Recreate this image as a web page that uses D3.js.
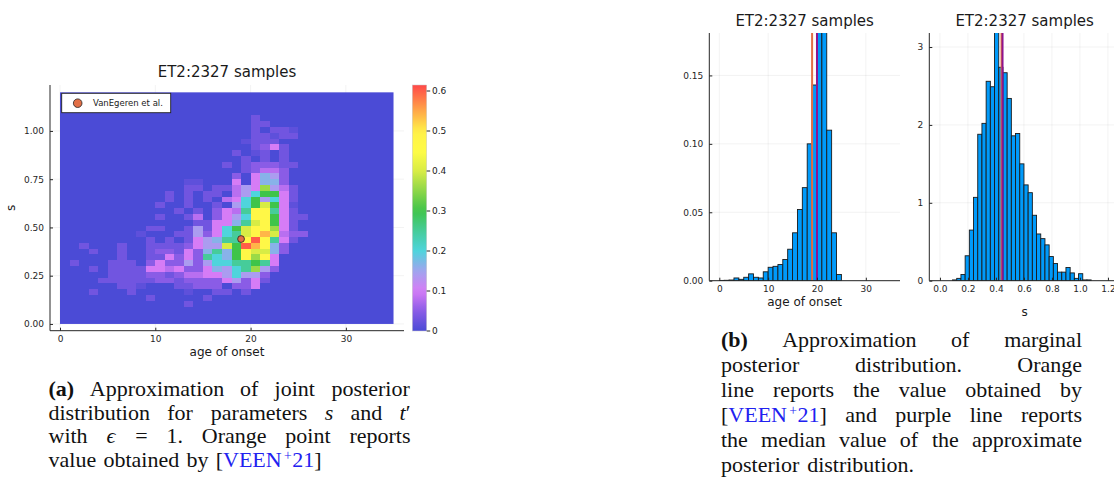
<!DOCTYPE html>
<html><head><meta charset="utf-8">
<script src="https://cdn.jsdelivr.net/npm/d3@7"></script>
<style>body{margin:0;background:#fff}svg{display:block}</style>
</head><body>
<svg id="c" width="1114" height="479"></svg>
<script>
// ---------------- DATA ----------------
const titleText = "ET2:2327 samples";
const legendLabel = "VanEgeren et al.";
const refPoint = {age: 19, s: 0.44};      // VanEgeren et al.
const medianAge = 20.0, medianS = 0.447;   // purple lines

// joint posterior heatmap: bins of 1 year (age) x 0.03 (s)
const ageBinWidth = 1, sBinWidth = 0.03, ageMax = 35, sMax = 1.2;
const heatLevels = {".":0,"1":0.015,"2":0.03,"3":0.05,"4":0.08,"5":0.10,"6":0.14,"7":0.165,
  "8":0.20,"9":0.25,"a":0.30,"b":0.36,"c":0.40,"d":0.47,"e":0.54,"f":0.60};
// [row index (s bin), first age column, level codes]
const heatRuns = [
  [35,20,"2"],[34,20,"22"],[33,20,"2.221"],[32,20,"22122"],[31,19,"1222"],[30,20,"2352"],
  [29,18,"2.12.2"],[28,19,"2.2.2"],[27,17,"2.233322"],[26,19,"23443"],[25,18,"3.5763"],
  [24,13,"11...5.5773"],[23,13,"22.22465b642"],[22,11,"2.2.22.468aa52"],[21,11,"2.2.2.458a6852"],
  [20,10,"2..2..2.68aca51"],[19,12,"2.2.3549dd952"],[18,10,"2..24.3568dda522"],[17,14,"225579cda52"],
  [16,9,"22..26258acddb52"],[15,8,"1...2263589cdec433"],[14,9,"2.2.256799dfd952"],
  [13,2,"2"],[13,6,"2"],[13,9,"22223566cafed73"],
  [12,3,"2"],[12,6,"2"],[12,9,"233253797adcc73"],
  [11,6,"2"],[11,9,"225353987adbd5"],
  [10,1,"2"],[10,5,"222.35336368899a95"],
  [9,3,"2.222255453357689b63"],[8,5,"22223323445568663"],[7,4,"222222332333356352"],
  [6,6,"221...22333.335"],[5,3,"2"],[5,7,"2"],[5,13,"1..22.2"],[4,9,"2"],[4,15,"2"],[3,13,"2"]
];
const cmapStops  = [0, 0.05, 0.10, 0.15, 0.20, 0.25, 0.30, 0.35, 0.40, 0.45, 0.50, 0.55, 0.615];
const cmapColors = ["#4b4bd6","#8a5ce6","#d67cf6","#a0a4ee","#4fd4dc","#46cc9a","#3fc44a",
                    "#8cd648","#d8ec45","#fffc46","#fff048","#ffa848","#ff4848"];
const cbTicks = [0, 0.1, 0.2, 0.3, 0.4, 0.5, 0.6];

// marginal histogram of age of onset (bins of 1 starting at 0), density
const ageHistStart = 0, ageHistWidth = 1;
const ageHistValues = [0.0002,0.0003,0.0005,0.002,0.001,0.0025,0.005,0.0025,0.002,0.0065,
  0.0098,0.0105,0.0118,0.0155,0.023,0.035,0.052,0.068,0.100,0.143,0.19,0.185,0.110,0.035,0.0045];
// marginal histogram of s (bins of 0.03 starting at 0.09), density
const sHistStart = 0.09, sHistWidth = 0.03;
const sHistValues = [0.01,0.03,0.08,0.32,0.65,1.07,1.88,2.02,2.56,2.49,3.3,2.74,2.67,2.34,1.86,
  1.89,1.50,1.23,1.13,0.84,0.60,0.54,0.46,0.31,0.22,0.11,0.11,0.17,0.10,0.03,0.09,0.01,0.01];

const aXTicks = [0,10,20,30], aYTicks = [0,0.25,0.5,0.75,1.0];
const b1XTicks = [0,10,20,30], b1YTicks = [0,0.05,0.10,0.15];
const b2XTicks = [0,0.2,0.4,0.6,0.8,1.0,1.2], b2YTicks = [0,1,2,3];

// ---------------- DRAW ----------------
const svg = d3.select("#c");
const SANS = "DejaVu Sans, sans-serif";
const SERIF = "Liberation Serif, DejaVu Serif, serif";
const ORANGE = "#e26f46", PURPLE = "#8e1490", BARBLUE = "#009afa";
const cmap = d3.scaleLinear().domain(cmapStops).range(cmapColors).interpolate(d3.interpolateRgb).clamp(true);

function grid(g, xs, ys, box, xt, yt) {
  g.selectAll(null).data(xt).join("line").attr("x1",d=>xs(d)).attr("x2",d=>xs(d))
    .attr("y1",box.top).attr("y2",box.bottom).attr("stroke","#000").attr("stroke-opacity",0.09).attr("stroke-width",0.6);
  g.selectAll(null).data(yt).join("line").attr("y1",d=>ys(d)).attr("y2",d=>ys(d))
    .attr("x1",box.left).attr("x2",box.right).attr("stroke","#000").attr("stroke-opacity",0.09).attr("stroke-width",0.6);
}
function axes(g, xs, ys, box, xt, yt, xf, yf) {
  const xa = d3.axisBottom(xs).tickValues(xt).tickFormat(xf).tickSizeInner(-3).tickSizeOuter(0).tickPadding(4.6);
  const ya = d3.axisLeft(ys).tickValues(yt).tickFormat(yf).tickSizeInner(-3).tickSizeOuter(0).tickPadding(6);
  const gx = g.append("g").attr("transform",`translate(0,${box.bottom})`).call(xa);
  const gy = g.append("g").attr("transform",`translate(${box.left},0)`).call(ya);
  [gx,gy].forEach(a=>{
    a.select(".domain").remove();
    a.selectAll("text").attr("font-family",SANS).attr("font-size",9).attr("fill","#262626");
    a.selectAll("line").attr("stroke","#262626");
  });
  g.append("line").attr("x1",box.left).attr("x2",box.right).attr("y1",box.bottom).attr("y2",box.bottom).attr("stroke","#262626").attr("stroke-width",1);
  g.append("line").attr("x1",box.left).attr("x2",box.left).attr("y1",box.top).attr("y2",box.bottom).attr("stroke","#262626").attr("stroke-width",1);
}
function txt(x,y,s,size,anchor="middle",extra){
  const t = svg.append("text").attr("x",x).attr("y",y).attr("font-family",SANS).attr("font-size",size)
    .attr("text-anchor",anchor).attr("fill","#1a1a1a").text(s);
  if (extra) extra(t);
  return t;
}

// ---------- Panel (a): heatmap ----------
const aBox = {left:50, right:404, top:85, bottom:330.7};
const ax = d3.scaleLinear().domain([-1.05, 36.1]).range([aBox.left, aBox.right]);
const ay = d3.scaleLinear().domain([-0.035, 1.238]).range([aBox.bottom, aBox.top]);
const ga = svg.append("g");
grid(ga, ax, ay, aBox, aXTicks, aYTicks);
ga.append("rect").attr("x",ax(0)).attr("y",ay(sMax)).attr("width",ax(ageMax)-ax(0)).attr("height",ay(0)-ay(sMax))
  .attr("fill",cmap(0));
const cells = [];
heatRuns.forEach(([row,c0,codes])=>{
  [...codes].forEach((ch,k)=>{ const v=heatLevels[ch]; if(v>0) cells.push({row, col:c0+k, v}); });
});
ga.selectAll(".cell").data(cells).join("rect").attr("class","cell")
  .attr("x",d=>ax(d.col*ageBinWidth)).attr("y",d=>ay((d.row+1)*sBinWidth))
  .attr("width",d=>ax((d.col+1)*ageBinWidth)-ax(d.col*ageBinWidth))
  .attr("height",d=>ay(d.row*sBinWidth)-ay((d.row+1)*sBinWidth))
  .attr("fill",d=>cmap(d.v)).attr("shape-rendering","crispEdges");
axes(ga, ax, ay, aBox, aXTicks, aYTicks, d3.format("d"), d3.format(".2f"));
ga.append("circle").attr("cx",ax(refPoint.age)).attr("cy",ay(refPoint.s)).attr("r",3.4)
  .attr("fill",ORANGE).attr("stroke","#222").attr("stroke-width",0.8);
// legend
ga.append("rect").attr("x",61.7).attr("y",93.3).attr("width",109).attr("height",19.4)
  .attr("fill","#fff").attr("stroke","#222").attr("stroke-width",0.9);
ga.append("circle").attr("cx",77.7).attr("cy",103.2).attr("r",4.3).attr("fill",ORANGE).attr("stroke","#222").attr("stroke-width",0.8);
txt(93,106.3,legendLabel,8.5,"start");
txt((aBox.left+aBox.right)/2,76.5,titleText,15);
txt((aBox.left+aBox.right)/2,356,"age of onset",12);
txt(0,0,"s",12,"middle",t=>t.attr("x",null).attr("y",null).attr("transform",`translate(15,${(aBox.top+aBox.bottom)/2}) rotate(-90)`));

// colorbar
const cb = d3.scaleLinear().domain([0, 0.615]).range([331, 85]);
const defs = svg.append("defs");
const grad = defs.append("linearGradient").attr("id","cbg").attr("x1",0).attr("y1",1).attr("x2",0).attr("y2",0);
d3.range(0, 41).forEach(i=>{
  const v = cb.domain()[1]*i/40;
  grad.append("stop").attr("offset",i/40).attr("stop-color",cmap(v));
});
svg.append("rect").attr("x",412.3).attr("y",cb(0.615)).attr("width",14.4).attr("height",cb(0)-cb(0.615))
  .attr("fill","url(#cbg)").attr("stroke","#c8c8c8").attr("stroke-width",0.5);
cbTicks.forEach(t=>{
  svg.append("line").attr("x1",426.7).attr("x2",430.2).attr("y1",cb(t)).attr("y2",cb(t)).attr("stroke","#262626");
  txt(432,cb(t)+3.2,t===0?"0":d3.format(".1f")(t),9,"start");
});

// ---------- Panel (b): histograms ----------
function hist(box, xs, ys, start, width, values, xt, yt, xf, yf, refV, medV, xlabel, xlabelY) {
  const g = svg.append("g");
  grid(g, xs, ys, box, xt, yt);
  const id = "clip"+Math.round(box.left);
  defs.append("clipPath").attr("id",id).append("rect").attr("x",box.left).attr("y",box.top)
    .attr("width",box.right-box.left).attr("height",box.bottom-box.top);
  const bars = values.map((v,i)=>({x0:start+i*width, x1:start+(i+1)*width, v}));
  const gb = g.append("g").attr("clip-path",`url(#${id})`);
  gb.selectAll("rect").data(bars).join("rect")
    .attr("x",d=>xs(d.x0)).attr("width",d=>xs(d.x1)-xs(d.x0))
    .attr("y",d=>ys(d.v)).attr("height",d=>ys(0)-ys(d.v))
    .attr("fill",BARBLUE).attr("stroke","#1a1a1a").attr("stroke-width",0.9);
  gb.append("line").attr("x1",xs(refV)).attr("x2",xs(refV)).attr("y1",box.top).attr("y2",box.bottom)
    .attr("stroke",ORANGE).attr("stroke-width",2);
  gb.append("line").attr("x1",xs(medV)).attr("x2",xs(medV)).attr("y1",box.top).attr("y2",box.bottom)
    .attr("stroke",PURPLE).attr("stroke-width",2);
  axes(g, xs, ys, box, xt, yt, xf, yf);
  txt((box.left+box.right)/2, 25.5, titleText, 15);
  txt((box.left+box.right)/2, xlabelY, xlabel, 12);
}
const b1 = {left:709.3, right:900, top:33, bottom:280.7};
const bx1 = d3.scaleLinear().domain([-2.05, 37.0]).range([b1.left, b1.right]);
const by1 = d3.scaleLinear().domain([0, 0.181]).range([b1.bottom, b1.top]);
hist(b1, bx1, by1, ageHistStart, ageHistWidth, ageHistValues, b1XTicks, b1YTicks,
     d3.format("d"), d3.format(".2f"), refPoint.age, medianAge, "age of onset", 306);
const b2 = {left:929.3, right:1120, top:33, bottom:280.7};
const bx2 = d3.scaleLinear().domain([-0.076, 1.286]).range([b2.left, b2.right]);
const by2 = d3.scaleLinear().domain([0, 3.18]).range([b2.bottom, b2.top]);
hist(b2, bx2, by2, sHistStart, sHistWidth, sHistValues, b2XTicks, b2YTicks,
     d3.format(".1f"), d3.format("d"), refPoint.s, medianS, "s", 315.5);

// ---------- Captions ----------
const CIT = [["[",""],["VEEN","L"],["+","LS"],["21","L"],["]",""]];
const captionA = [
  {y:396, j:true,  words:[[["(a)","B"]],"Approximation","of","joint","posterior"]},
  {y:419.5, j:true, words:["distribution","for","parameters",[["s","I"]],"and",[["t","I"],["′",""]]]},
  {y:443, j:true,  words:["with",[["ϵ","I"]],"=","1.","Orange","point","reports"]},
  {y:466.5, j:false, words:["value","obtained","by",CIT]}
];
const captionB = [
  {y:346.5, j:true, words:[[["(b)","B"]],"Approximation","of","marginal"]},
  {y:371.5, j:true, words:["posterior","distribution.","Orange"]},
  {y:396.5, j:true, words:["line","reports","the","value","obtained","by"]},
  {y:421.5, j:true, words:[CIT,"and","purple","line","reports"]},
  {y:446.5, j:true, words:["the","median","value","of","the","approximate"]},
  {y:471.5, j:false, words:["posterior","distribution."]}
];
function caption(lines, x0, x1, fs) {
  lines.forEach(line=>{
    const items = line.words.map(w=>{
      const segs = typeof w === "string" ? [[w,""]] : w;
      const t = svg.append("text").attr("y",line.y).attr("font-family",SERIF).attr("font-size",fs).attr("fill","#111");
      let wasSup = false;
      segs.forEach(([s,st])=>{
        const ts = t.append("tspan").text(s);
        if (st.includes("B")) ts.attr("font-weight","bold");
        if (st.includes("I")) ts.attr("font-style","italic");
        if (st.includes("L")) ts.attr("fill","#2121f0");
        if (st.includes("S")) { ts.attr("font-size",fs*0.62).attr("dy",-fs*0.3).attr("dx",fs*0.1); wasSup = true; }
        else if (wasSup) { ts.attr("dy",fs*0.3).attr("dx",fs*0.03); wasSup = false; }
      });
      const n = t.node();
      return {t, w:Math.max(n.getComputedTextLength(), n.getBBox().width)};
    });
    const total = d3.sum(items,d=>d.w);
    const gap = line.j ? (x1-x0-total)/(items.length-1) : fs*0.33;
    let x = x0;
    items.forEach(it=>{ it.t.attr("x",x); x += it.w + gap; });
  });
}
caption(captionA, 48.5, 410.5, 22);
caption(captionB, 721, 1082, 22);
</script>
</body></html>
